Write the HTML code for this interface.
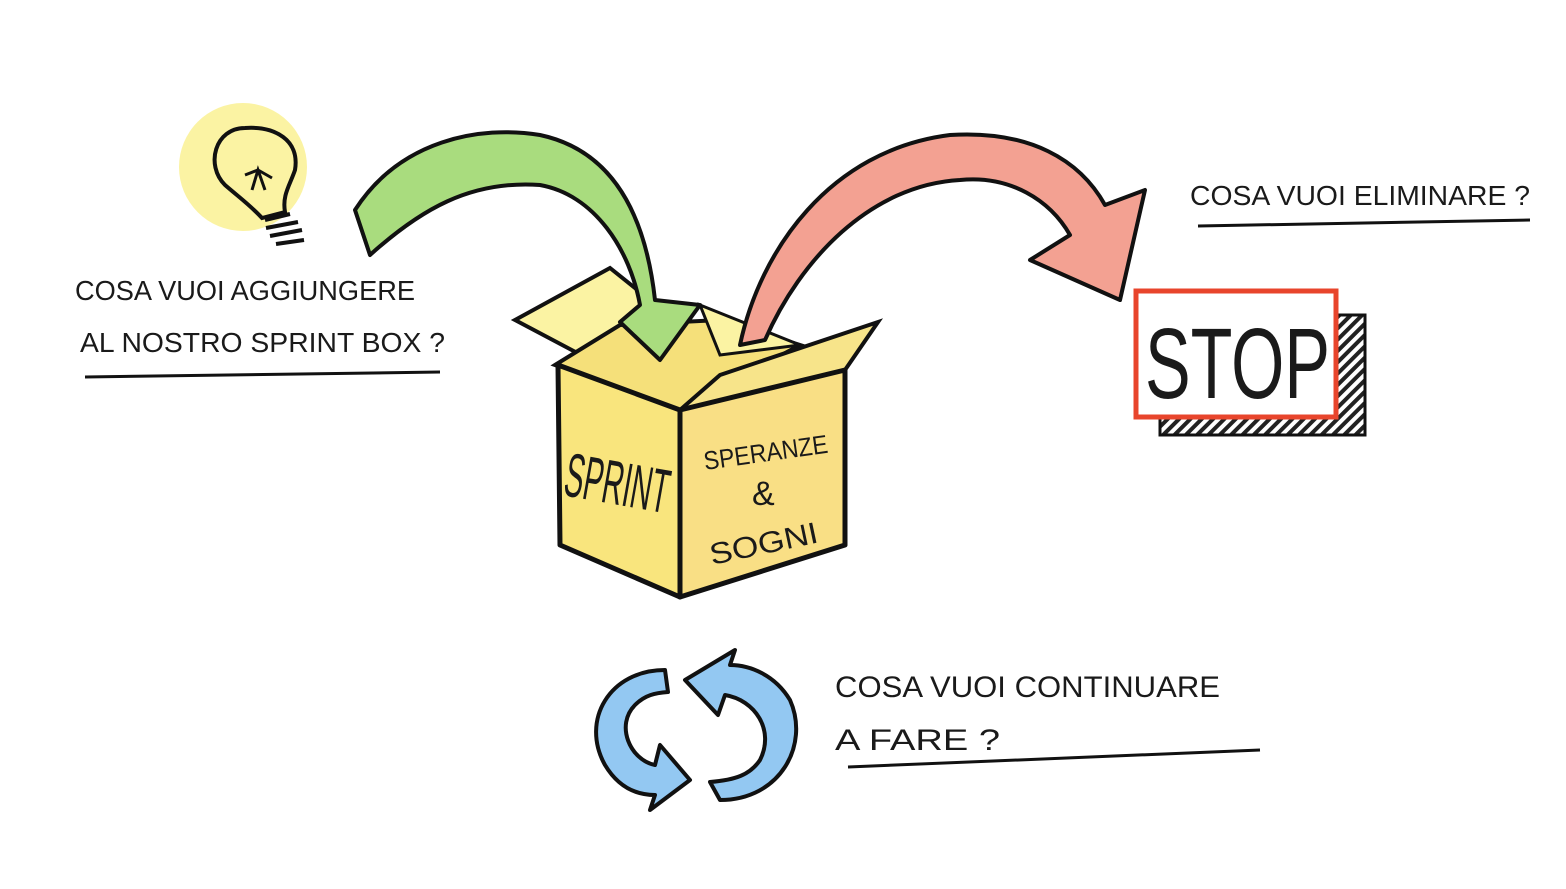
<!DOCTYPE html>
<html><head><meta charset="utf-8"><style>
html,body{margin:0;padding:0;background:#fff;}
svg{display:block}
text{font-family:"Liberation Sans",sans-serif;fill:#1a1a1a;}
</style></head><body>
<svg width="1566" height="889" viewBox="0 0 1566 889" xmlns="http://www.w3.org/2000/svg">
<!-- lightbulb -->
<circle cx="243" cy="167" r="64" fill="#fbf3a3"/>
<path d="M245 128 C215 128 205 165 225 185 C240 198 250 205 262 218 L285 212 C282 195 290 185 295 170 C300 140 275 126 245 128 Z" fill="none" stroke="#111" stroke-width="4"/>
<path d="M252 190 L258 170 L265 190 M245 175 L258 170 L272 178" fill="none" stroke="#111" stroke-width="3"/>
<path d="M265 220 L290 214 M266 228 L298 222 M270 236 L302 230 M276 244 L304 240" stroke="#111" stroke-width="4"/>
<!-- text left -->
<text x="75" y="300" font-size="28" textLength="340" lengthAdjust="spacingAndGlyphs">COSA VUOI AGGIUNGERE</text>
<text x="80" y="352" font-size="28" textLength="365" lengthAdjust="spacingAndGlyphs">AL NOSTRO SPRINT BOX ?</text>
<path d="M85 377 L440 372" stroke="#111" stroke-width="3"/>
<!-- box back parts -->
<polygon points="515,320 610,268 650,300 600,365" fill="#fbf3a3" stroke="#111" stroke-width="4"/>
<polygon points="555,365 620,325 720,320 800,345 680,410" fill="#f5e07a" stroke="#111" stroke-width="4"/>
<polygon points="700,305 800,345 720,355" fill="#fbf3a3" stroke="#111" stroke-width="3"/>
<!-- green arrow -->
<path d="M355 210 C400 140 480 125 540 135 C610 150 645 210 655 300 L700 305 L660 360 L620 322 L640 305 C630 250 595 195 540 185 C470 180 420 210 370 255 Z" fill="#a9dc7e" stroke="#111" stroke-width="4" stroke-linejoin="round"/>
<!-- box front -->
<polygon points="680,410 845,370 878,322 720,375" fill="#f7e48a" stroke="#111" stroke-width="4"/>
<polygon points="558,365 680,410 680,597 560,545" fill="#f9e57d" stroke="#111" stroke-width="5" stroke-linejoin="round"/>
<polygon points="680,410 845,370 845,545 680,597" fill="#f9df85" stroke="#111" stroke-width="5" stroke-linejoin="round"/>
<text x="562" y="495" font-size="62" transform="rotate(10 562 495)" textLength="105" lengthAdjust="spacingAndGlyphs">SPRINT</text>
<text x="705" y="470" font-size="26" transform="rotate(-8 705 470)" textLength="125" lengthAdjust="spacingAndGlyphs">SPERANZE</text>
<text x="752" y="505" font-size="34">&amp;</text>
<text x="712" y="565" font-size="30" transform="rotate(-12 712 565)" textLength="110" lengthAdjust="spacingAndGlyphs">SOGNI</text>
<!-- red arrow -->
<path d="M740 345 C760 250 830 150 950 135 C1030 130 1080 160 1105 205 L1145 190 L1120 300 L1030 260 L1070 235 C1050 200 1010 175 960 180 C870 185 800 260 765 340 Z" fill="#f3a192" stroke="#111" stroke-width="4" stroke-linejoin="round"/>
<!-- text right -->
<text x="1190" y="205" font-size="28" textLength="340" lengthAdjust="spacingAndGlyphs">COSA VUOI ELIMINARE ?</text>
<path d="M1198 226 L1530 220" stroke="#111" stroke-width="3"/>
<!-- STOP -->
<defs><pattern id="h" width="8" height="8" patternUnits="userSpaceOnUse" patternTransform="rotate(45)"><rect width="4" height="8" fill="#222"/></pattern></defs>
<rect x="1160" y="315" width="205" height="120" fill="url(#h)" stroke="#111" stroke-width="3"/>
<rect x="1136" y="291" width="200" height="126" fill="#fff" stroke="#e8452c" stroke-width="5"/>
<text x="1145" y="398" font-size="100" textLength="185" lengthAdjust="spacingAndGlyphs">STOP</text>
<!-- blue cycle -->
<path d="M665 670 C610 670 580 720 605 765 C620 790 640 795 655 795 L650 810 L690 780 L660 745 L655 765 C630 760 615 725 635 705 C645 695 655 693 668 692 Z" fill="#93c8f2" stroke="#111" stroke-width="4" stroke-linejoin="round"/>
<path d="M720 800 C780 800 810 745 790 700 C775 675 750 665 730 665 L735 650 L685 680 L718 715 L725 695 C755 700 775 730 760 760 C750 775 735 780 710 782 Z" fill="#93c8f2" stroke="#111" stroke-width="4" stroke-linejoin="round"/>
<!-- text bottom -->
<text x="835" y="697" font-size="30" textLength="385" lengthAdjust="spacingAndGlyphs">COSA VUOI CONTINUARE</text>
<text x="835" y="750" font-size="30" textLength="165" lengthAdjust="spacingAndGlyphs">A FARE ?</text>
<path d="M848 767 L1260 750" stroke="#111" stroke-width="3"/>
</svg>
</body></html>
